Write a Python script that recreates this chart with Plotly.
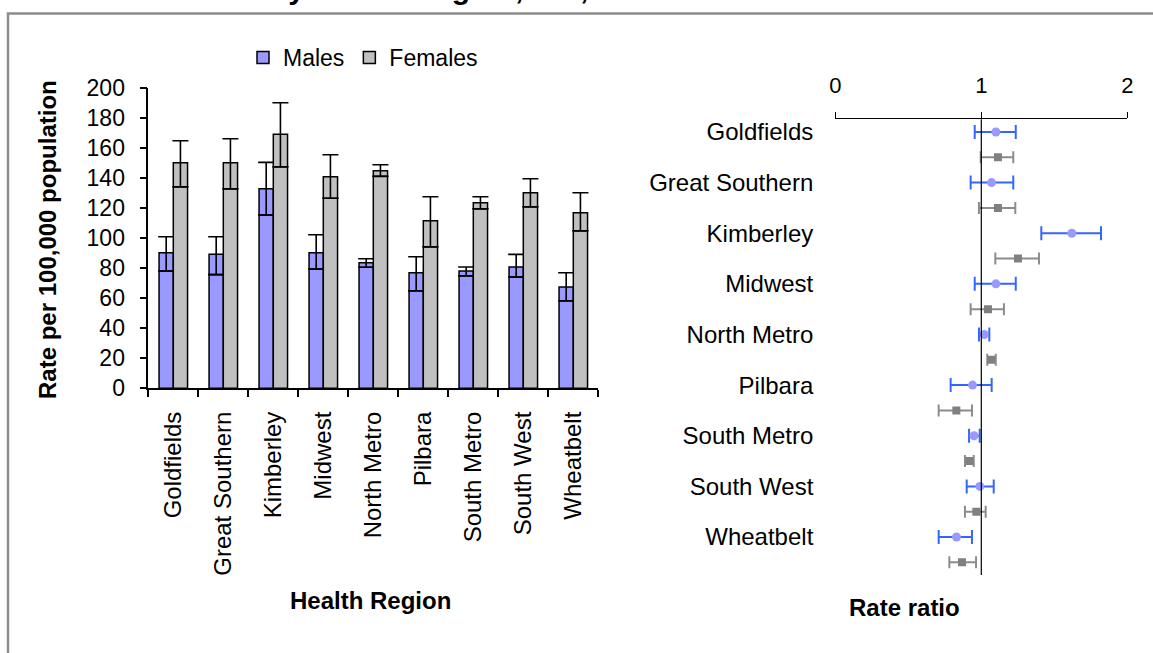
import numpy as np
import plotly.graph_objects as go

# Health regions
regions = ["Goldfields", "Great Southern", "Kimberley", "Midwest", "North Metro",
           "Pilbara", "South Metro", "South West", "Wheatbelt"]

# Rate per 100,000 population with 95% CI
male_rate = [90.4, 89.3, 133.0, 90.4, 83.7, 77.0, 78.2, 80.9, 67.5]
male_lo = [78.2, 75.8, 115.5, 79.5, 80.7, 65.0, 75.0, 74.2, 58.4]
male_hi = [101.0, 101.0, 150.6, 102.4, 86.4, 87.7, 80.9, 89.3, 77.0]
female_rate = [150.4, 150.4, 169.3, 141.0, 145.0, 111.7, 123.7, 130.4, 117.0]
female_lo = [134.4, 133.0, 147.7, 126.7, 141.3, 94.4, 119.7, 121.0, 105.0]
female_hi = [165.0, 166.4, 190.4, 155.7, 149.0, 127.7, 127.7, 139.7, 130.4]

# Rate ratio with 95% CI
male_rr = [1.10, 1.07, 1.62, 1.10, 1.02, 0.94, 0.95, 0.99, 0.83]
male_rr_lo = [0.955, 0.927, 1.411, 0.955, 0.984, 0.79, 0.916, 0.90, 0.708]
male_rr_hi = [1.236, 1.219, 1.82, 1.236, 1.055, 1.071, 0.989, 1.085, 0.936]
female_rr = [1.114, 1.114, 1.251, 1.046, 1.068, 0.829, 0.918, 0.966, 0.868]
female_rr_lo = [0.996, 0.984, 1.096, 0.927, 1.041, 0.708, 0.888, 0.888, 0.781]
female_rr_hi = [1.219, 1.233, 1.395, 1.155, 1.099, 0.936, 0.948, 1.03, 0.964]

W, H = 1153, 653
FONT = "Arial, Liberation Sans, sans-serif"


def px_x(p):
    return p / W


def px_y(p):
    return 1 - p / H


fig = go.Figure()

# left panel: bars drawn as two pieces so the lower CI shows as a line across the bar
series = [
    ("Males", male_rate, male_lo, male_hi, "#9999FF"),
    ("Females", female_rate, female_lo, female_hi, "#C0C0C0"),
]
for name, rate, lo, hi, col in series:
    rate, lo, hi = np.array(rate), np.array(lo), np.array(hi)
    fig.add_trace(go.Bar(
        x=regions, y=lo, offsetgroup=name, name=name, legendgroup=name,
        showlegend=False, marker=dict(color=col, line=dict(color="black", width=1.5)),
        hoverinfo="skip"))
    fig.add_trace(go.Bar(
        x=regions, y=rate - lo, base=lo, offsetgroup=name, name=name, legendgroup=name,
        marker=dict(color=col, line=dict(color="black", width=1.5)),
        error_y=dict(type="data", array=hi - rate, arrayminus=rate - lo,
                     color="black", thickness=1.6, width=8)))

# right panel: rate ratios, male rows then female rows
male_rows = np.arange(len(regions)) * 2
female_rows = male_rows + 1
fig.add_trace(go.Scatter(
    x=male_rr, y=male_rows, xaxis="x2", yaxis="y2", mode="markers", showlegend=False,
    marker=dict(symbol="circle", size=9, color="#9999FF"),
    error_x=dict(type="data", array=np.array(male_rr_hi) - np.array(male_rr),
                 arrayminus=np.array(male_rr) - np.array(male_rr_lo),
                 color="#3366FF", thickness=2, width=7)))
fig.add_trace(go.Scatter(
    x=female_rr, y=female_rows, xaxis="x2", yaxis="y2", mode="markers", showlegend=False,
    marker=dict(symbol="square", size=8, color="#808080"),
    error_x=dict(type="data", array=np.array(female_rr_hi) - np.array(female_rr),
                 arrayminus=np.array(female_rr) - np.array(female_rr_lo),
                 color="#8C8C8C", thickness=2, width=6)))

fig.update_layout(
    width=W, height=H,
    margin=dict(l=0, r=0, t=0, b=0),
    paper_bgcolor="white", plot_bgcolor="white",
    font=dict(family=FONT, size=23, color="black"),
    barmode="group", bargap=0.43, bargroupgap=0,
    legend=dict(orientation="h", x=px_x(243), y=px_y(36), xanchor="left", yanchor="top",
                font=dict(size=23), bgcolor="rgba(0,0,0,0)", traceorder="normal"),
    xaxis=dict(domain=[px_x(148.3), px_x(598.3)], anchor="y", type="category",
               showline=True, linecolor="black", linewidth=1.5, showgrid=False,
               ticks="outside", ticklen=7, tickwidth=1.5, tickcolor="black",
               tickson="boundaries", tickangle=-90, ticklabelstandoff=12,
               tickfont=dict(size=24), automargin=False),
    yaxis=dict(domain=[px_y(388.3), px_y(88.3)], anchor="x", range=[0, 200],
               tickvals=list(range(0, 201, 20)), showline=True, linecolor="black",
               linewidth=1.5, showgrid=False, zeroline=False, ticks="outside", ticklen=7,
               tickwidth=1.5, tickcolor="black", ticklabelstandoff=10, automargin=False),
    xaxis2=dict(domain=[px_x(835.3), px_x(1127.3)], anchor="y2", side="top", range=[0, 2],
                tickvals=[0, 1, 2], showline=True, linecolor="black", linewidth=1,
                showgrid=False, zeroline=False, ticks="outside", ticklen=6, tickwidth=1,
                tickcolor="black", ticklabelstandoff=11, tickfont=dict(size=22),
                automargin=False),
    yaxis2=dict(domain=[px_y(575), px_y(119.3)], anchor="x2", range=[17.5, -0.5],
                tickvals=male_rows, ticktext=regions, showline=False, showgrid=False,
                zeroline=False, ticks="", ticklabelstandoff=21, tickfont=dict(size=24),
                automargin=False),
)

# reference line at rate ratio 1
fig.add_shape(type="line", xref="x2", yref="y2 domain", x0=1, x1=1, y0=0, y1=1,
              line=dict(color="black", width=1.2))

# outer frame (runs off the right and bottom edges)
fig.add_shape(type="rect", xref="paper", yref="paper", x0=px_x(8), x1=1.05,
              y0=-0.05, y1=px_y(13.5), line=dict(color="#8C8C8C", width=2.5))

# title, mostly above the visible page
fig.add_annotation(text="<b>Rates by Health Region, WA, 2000-2004</b>", xref="paper",
                   yref="paper", x=px_x(178), y=px_y(7), xanchor="left", yanchor="bottom",
                   showarrow=False, font=dict(size=30))

# axis titles
fig.add_annotation(text="<b>Rate per 100,000 population</b>", xref="paper", yref="paper",
                   x=px_x(47), y=px_y(240), xanchor="center", yanchor="middle",
                   textangle=-90, showarrow=False, font=dict(size=24))
fig.add_annotation(text="<b>Health Region</b>", xref="paper", yref="paper",
                   x=px_x(370), y=px_y(600), xanchor="center", yanchor="middle",
                   showarrow=False, font=dict(size=24))
fig.add_annotation(text="<b>Rate ratio</b>", xref="paper", yref="paper",
                   x=px_x(904), y=px_y(607), xanchor="center", yanchor="middle",
                   showarrow=False, font=dict(size=24))

fig.write_html("out.html", config={"displayModeBar": False},
               post_script="document.body.style.margin='0';")
